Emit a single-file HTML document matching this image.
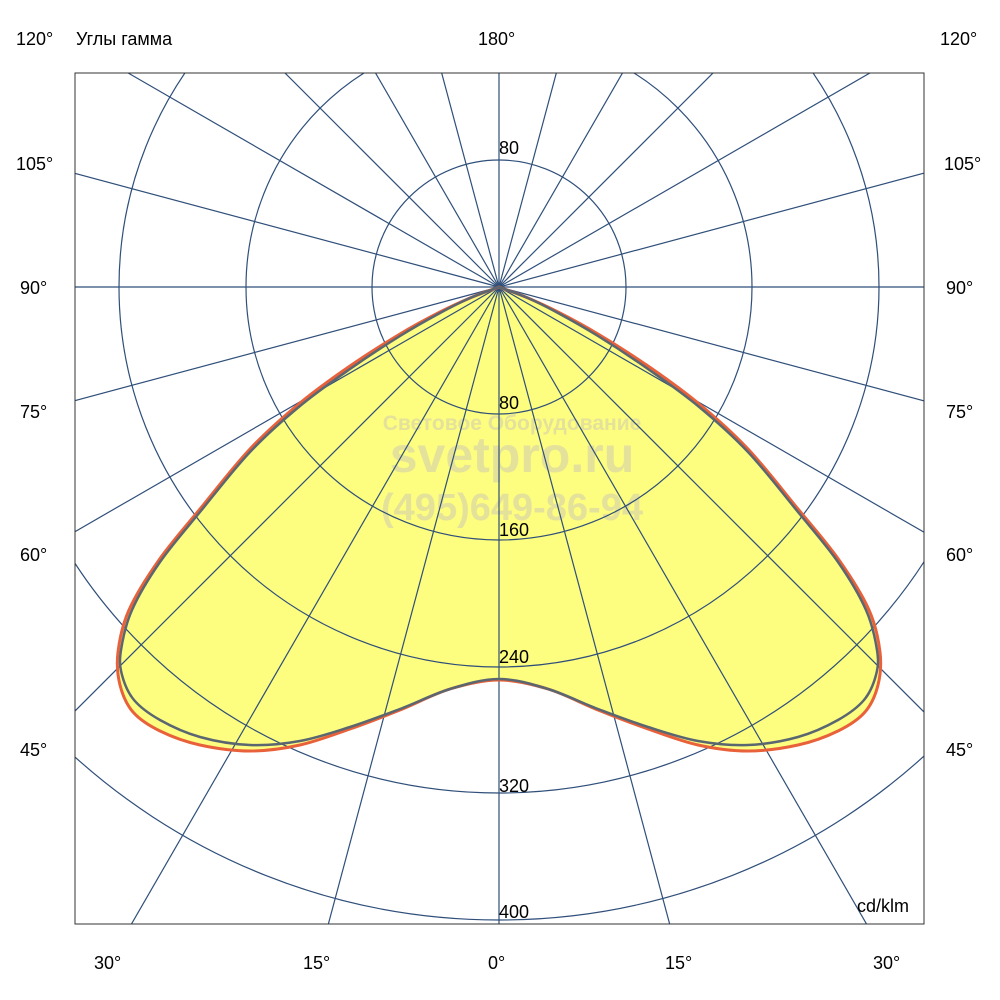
<!DOCTYPE html>
<html><head><meta charset="utf-8"><style>html,body{margin:0;background:#fff;overflow:hidden;width:1000px;height:1000px}svg{display:block}text{font-family:"Liberation Sans",sans-serif}</style></head><body>
<svg width="1000" height="1000" viewBox="0 0 1000 1000">
<defs><clipPath id="c"><rect x="75" y="73" width="849" height="851"/></clipPath></defs>
<g clip-path="url(#c)">
<path id="fill" fill="#fdfd80" stroke="none"/>
<g fill="#e4e29a" font-weight="bold" text-anchor="middle">
<text x="512" y="430" font-size="21">Световое Оборудование</text>
<text x="512" y="472" font-size="50">svetpro.ru</text>
<text x="512" y="520" font-size="38">(495)649-86-94</text>
</g>
<g fill="none" stroke="#2f4f7a" stroke-width="1.2">
<circle cx="499" cy="287" r="127"/><circle cx="499" cy="287" r="253"/><circle cx="499" cy="287" r="380"/><circle cx="499" cy="287" r="506"/><circle cx="499" cy="287" r="633"/>
<g id="rl">
<line x1="499" y1="287" x2="499" y2="1300"/>
<line x1="499" y1="287" x2="761" y2="1265"/>
<line x1="499" y1="287" x2="1005" y2="1164"/>
<line x1="499" y1="287" x2="1215" y2="1003"/>
<line x1="499" y1="287" x2="1376" y2="793"/>
<line x1="499" y1="287" x2="1477" y2="549"/>
<line x1="499" y1="287" x2="1512" y2="287"/>
<line x1="499" y1="287" x2="1477" y2="25"/>
<line x1="499" y1="287" x2="1376" y2="-219"/>
<line x1="499" y1="287" x2="1215" y2="-429"/>
<line x1="499" y1="287" x2="1005" y2="-590"/>
<line x1="499" y1="287" x2="761" y2="-691"/>
</g>
<use href="#rl" transform="translate(998,574) rotate(180)"/>
</g>
<path id="red" fill="none" stroke="#e8613a" stroke-width="3"/>
<path id="gray" fill="none" stroke="#5a6670" stroke-width="2.5"/>
</g>
<rect x="75" y="73" width="849" height="851" fill="none" stroke="#333" stroke-width="1"/>
<g font-size="18" fill="#000">
<text x="499" y="154">80</text><text x="499" y="409">80</text><text x="499" y="536">160</text><text x="499" y="663">240</text><text x="499" y="792">320</text><text x="499" y="918">400</text>
<text x="857" y="912">cd/klm</text>
<text x="16" y="45">120°</text><text x="76" y="45">Углы гамма</text><text x="478" y="45">180°</text><text x="940" y="45">120°</text>
<text x="16" y="170">105°</text><text x="944" y="170">105°</text>
<text x="20" y="294">90°</text><text x="946" y="294">90°</text>
<text x="20" y="418">75°</text><text x="946" y="418">75°</text>
<text x="20" y="561">60°</text><text x="946" y="561">60°</text>
<text x="20" y="756">45°</text><text x="946" y="756">45°</text>
<text x="94" y="969">30°</text><text x="303" y="969">15°</text><text x="488" y="969">0°</text><text x="665" y="969">15°</text><text x="873" y="969">30°</text>
</g>
</svg>
<script>
function build(half){
  var pts=half.slice();
  for(var i=half.length-2;i>=1;i--){pts.push([998-half[i][0],half[i][1]]);}
  var n=pts.length,d="M"+pts[0][0]+","+pts[0][1];
  for(var i=0;i<n;i++){
    var p0=pts[(i-1+n)%n],p1=pts[i],p2=pts[(i+1)%n],p3=pts[(i+2)%n];
    var c1=[p1[0]+(p2[0]-p0[0])/6,p1[1]+(p2[1]-p0[1])/6];
    var c2=[p2[0]-(p3[0]-p1[0])/6,p2[1]-(p3[1]-p1[1])/6];
    if(i==n-1||i==0){c1=(i==0)?[p1[0]+(p2[0]-p1[0])/3,p1[1]+(p2[1]-p1[1])/3]:c1; if(i==n-1)c2=[p2[0]+(p1[0]-p2[0])/3,p2[1]+(p1[1]-p2[1])/3];}
    d+=" C"+c1[0].toFixed(1)+","+c1[1].toFixed(1)+" "+c2[0].toFixed(1)+","+c2[1].toFixed(1)+" "+p2[0]+","+p2[1];
  }
  return d+"Z";
}
var g=[[499,287],[470,298],[440,313],[400,336],[350,369],[300,406],[250,452],[200,512],[160,562],[132,610],[121,650],[122,675],[134,700],[160,720],[200,737],[250,745],[300,741],[350,727],[400,709],[450,689],[499,679]];
var r=[[499,287],[470,298],[440,312],[400,334],[350,366],[300,403],[250,449],[200,509],[159,560],[129,610],[118,652],[120,685],[133,712],[160,731],[200,745],[250,751],[300,745],[350,729],[400,710],[450,689],[499,680]];
document.getElementById('fill').setAttribute('d',build(r));
document.getElementById('red').setAttribute('d',build(r));
document.getElementById('gray').setAttribute('d',build(g));
</script>
</body></html>
